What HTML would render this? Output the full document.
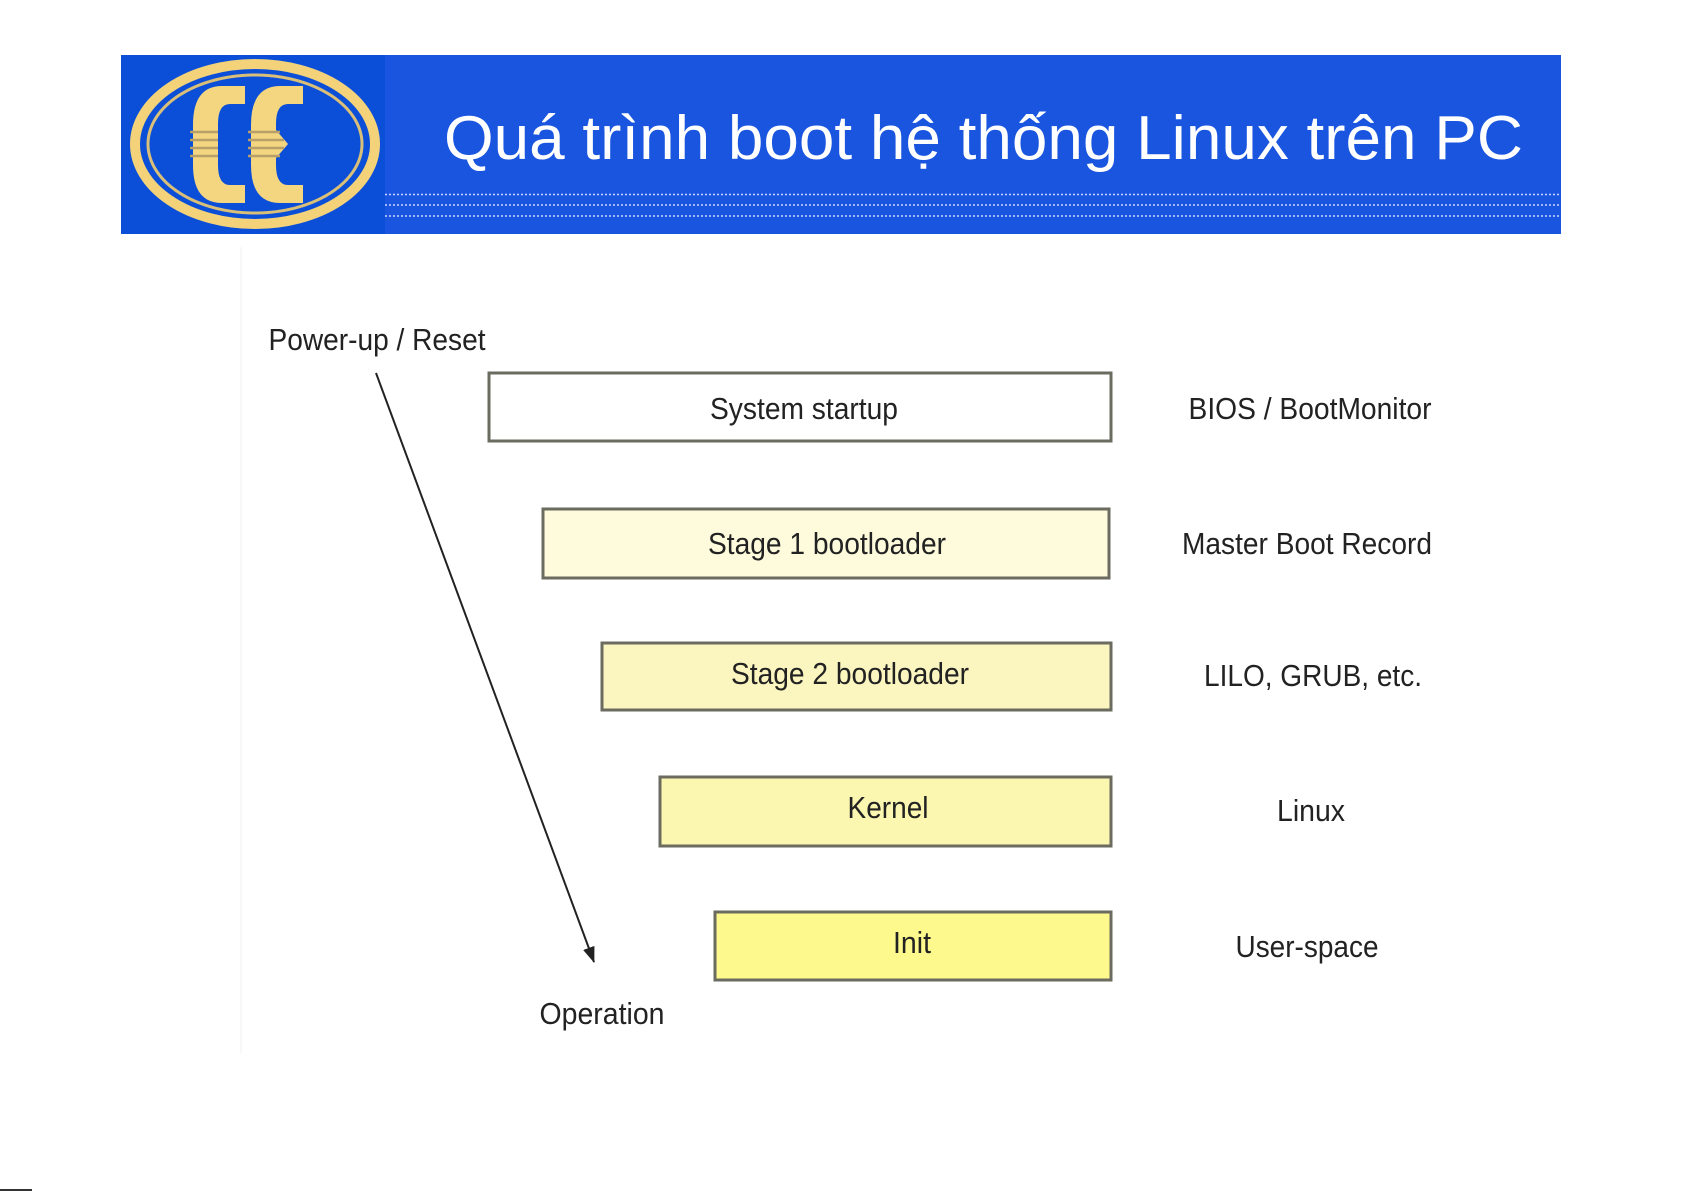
<!DOCTYPE html>
<html><head><meta charset="utf-8"><style>
html,body{margin:0;padding:0;background:#fff;width:1685px;height:1192px;overflow:hidden}
svg{display:block}
text{font-family:"Liberation Sans",Arial,sans-serif}
</style></head><body>
<svg width="1685" height="1192" viewBox="0 0 1685 1192" xmlns="http://www.w3.org/2000/svg">
<defs>
<marker id="ah" markerWidth="18" markerHeight="14" refX="15" refY="6" orient="auto" markerUnits="userSpaceOnUse">
<path d="M0,0 L16,6 L0,12 Z" fill="#222"/>
</marker>
</defs>
<rect x="121" y="55" width="1440" height="179" fill="#1a55e0"/>
<rect x="121" y="55" width="264" height="179" fill="#0b4fd8"/>
<line x1="385" y1="194.5" x2="1561" y2="194.5" stroke="#c8d6ff" stroke-width="1.5" stroke-dasharray="2,2"/>
<line x1="385" y1="205" x2="1561" y2="205" stroke="#c8d6ff" stroke-width="1.5" stroke-dasharray="2,2"/>
<line x1="385" y1="216" x2="1561" y2="216" stroke="#c8d6ff" stroke-width="1.5" stroke-dasharray="2,2"/>
<ellipse cx="255" cy="144" rx="120" ry="80" fill="none" stroke="#f3d27a" stroke-width="10"/>
<ellipse cx="255" cy="144" rx="107" ry="69" fill="none" stroke="#d9bf78" stroke-width="3" stroke-dasharray="1,0"/>
<path d="M245,86 L222,86 Q193,86 193,125 L193,165 Q193,203 222,203 L245,203 L245,185 L230,185 Q218,185 218,165 L218,124 Q218,104 230,104 L245,104 Z" fill="#f4d680"/>
<path d="M303,86 L280,86 Q251,86 251,125 L251,165 Q251,203 280,203 L303,203 L303,185 L288,185 Q276,185 276,165 L276,158 L288,144 L276,130 L276,124 Q276,104 288,104 L303,104 Z" fill="#f4d680"/>
<g stroke="#b79f6a" stroke-width="2.5">
<line x1="190" y1="132" x2="218" y2="132"/><line x1="190" y1="140" x2="218" y2="140"/><line x1="190" y1="148" x2="218" y2="148"/><line x1="190" y1="156" x2="218" y2="156"/>
<line x1="248" y1="132" x2="280" y2="132"/><line x1="248" y1="140" x2="284" y2="140"/><line x1="248" y1="148" x2="284" y2="148"/><line x1="248" y1="156" x2="280" y2="156"/>
</g>
<text x="444" y="159" font-size="62" fill="#fff" textLength="1079" lengthAdjust="spacingAndGlyphs">Quá trình boot hệ thống Linux trên PC</text>
<line x1="241" y1="247" x2="241" y2="1053" stroke="#f2f2f2" stroke-width="1"/>
<line x1="376" y1="373" x2="594" y2="962" stroke="#222" stroke-width="2" marker-end="url(#ah)"/>
<g font-size="31" fill="#222" text-anchor="middle">
<text x="377" y="350" textLength="217" lengthAdjust="spacingAndGlyphs">Power-up / Reset</text>
<text x="602" y="1024" textLength="125" lengthAdjust="spacingAndGlyphs">Operation</text>
</g>
<g stroke="#6b6b60" stroke-width="3">
<rect x="489" y="373" width="622" height="68" fill="#ffffff"/>
<rect x="543" y="509" width="566" height="69" fill="#fdfbdc"/>
<rect x="602" y="643" width="509" height="67" fill="#fbf6bf"/>
<rect x="660" y="777" width="451" height="69" fill="#fbf6b0"/>
<rect x="715" y="912" width="396" height="68" fill="#fdf98c"/>
</g>
<g font-size="31" fill="#222" text-anchor="middle">
<text x="804" y="419" textLength="188" lengthAdjust="spacingAndGlyphs">System startup</text>
<text x="827" y="554" textLength="238" lengthAdjust="spacingAndGlyphs">Stage 1 bootloader</text>
<text x="850" y="684" textLength="238" lengthAdjust="spacingAndGlyphs">Stage 2 bootloader</text>
<text x="888" y="818" textLength="81" lengthAdjust="spacingAndGlyphs">Kernel</text>
<text x="912" y="953" textLength="38" lengthAdjust="spacingAndGlyphs">Init</text>
<text x="1310" y="419" textLength="243" lengthAdjust="spacingAndGlyphs">BIOS / BootMonitor</text>
<text x="1307" y="554" textLength="250" lengthAdjust="spacingAndGlyphs">Master Boot Record</text>
<text x="1313" y="686" textLength="218" lengthAdjust="spacingAndGlyphs">LILO, GRUB, etc.</text>
<text x="1311" y="821" textLength="68" lengthAdjust="spacingAndGlyphs">Linux</text>
<text x="1307" y="957" textLength="143" lengthAdjust="spacingAndGlyphs">User-space</text>
</g>
<line x1="0" y1="1190" x2="32" y2="1190" stroke="#333" stroke-width="2"/>
</svg>
</body></html>
